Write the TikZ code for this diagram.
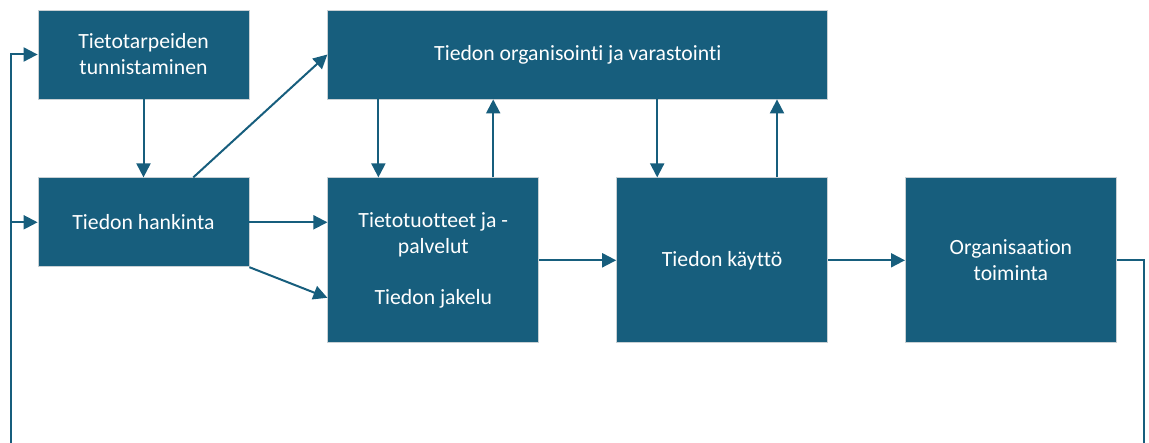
\documentclass[tikz,border=0pt]{standalone}
\usepackage{fontspec}
\setmainfont[RawFeature={-liga;-clig;-dlig}]{Carlito}
\usetikzlibrary{positioning, arrows.meta, calc}
\definecolor{flowblue}{RGB}{23,94,125}
\definecolor{edgegray}{RGB}{200,208,212}

\begin{document}
\begin{tikzpicture}[
  box/.style={draw=edgegray, line width=0.8pt, fill=flowblue, text=white,
              minimum width=211pt, minimum height=89pt, inner sep=0pt, align=center,
              font=\fontsize{21.7}{26}\selectfont},
  widebox/.style={box, minimum width=500pt},
  tallbox/.style={box, minimum height=165pt},
  arr/.style={-{Triangle[length=14pt, width=14pt]}, line width=2pt, color=flowblue},
  loop/.style={line width=2pt, color=flowblue},
]
\useasboundingbox (0,0) rectangle (1149pt,-443pt);
\clip (0,0) rectangle (1149pt,-443pt);

% Left column
\node[box] (tarve) at (143.5pt,-54.5pt) {Tietotarpeiden\\tunnistaminen};
\node[box, below=78pt of tarve] (hankinta) {Tiedon hankinta};

% Top row
\node[widebox, right=78pt of tarve] (varasto) {Tiedon organisointi ja varastointi};

% Middle row
\node[tallbox, below right=78pt and 0pt of varasto.south west] (jakelu)
  {Tietotuotteet ja -\\palvelut\\[25pt]Tiedon jakelu};
\node[tallbox, right=77pt of jakelu] (kaytto) {Tiedon käyttö};
\node[tallbox, right=77pt of kaytto] (toiminta) {Organisaation\\toiminta};

% Anchor points on the middle row
\coordinate (jdown) at ($(jakelu.north west)+(51pt,0)$);
\coordinate (jup)   at ($(jakelu.north east)+(-46pt,0)$);
\coordinate (kdown) at ($(kaytto.north west)+(41pt,0)$);
\coordinate (kup)   at ($(kaytto.north east)+(-51pt,0)$);
\coordinate (hstart) at ($(hankinta.north west)!0.735!(hankinta.north east)$);

% === Arrows (main flow) ===
\draw[arr] (tarve) -- (hankinta);
\draw[arr] (hstart) -- (varasto.west);
\draw[arr] (hankinta.east) -- (jakelu.west |- hankinta.east);
\draw[arr] (hankinta.south east) -- ($(jakelu.west)+(0,-37.5pt)$);

\draw[arr] (varasto.south -| jdown) -- (jdown);
\draw[arr] (jup) -- (varasto.south -| jup);
\draw[arr] (varasto.south -| kdown) -- (kdown);
\draw[arr] (kup) -- (varasto.south -| kup);

\draw[arr] (jakelu) -- (kaytto);
\draw[arr] (kaytto) -- (toiminta);

% Feedback loop back to the start
\coordinate (loopR) at ($(toiminta.east)+(27pt,0)$);
\coordinate (loopL) at (11pt,-470pt);
\draw[loop] (toiminta.east) -- (loopR) -- (loopR |- loopL) -- (loopL);
\draw[arr] (loopL) |- (tarve.west);
\draw[arr] (loopL |- hankinta.west) -- (hankinta.west);

\end{tikzpicture}
\end{document}
